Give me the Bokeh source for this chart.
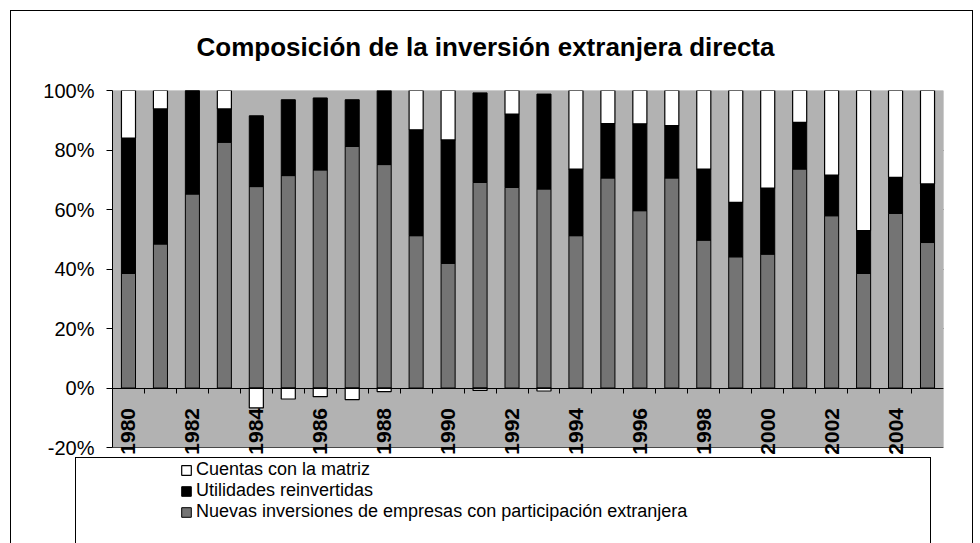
import numpy as np
from bokeh.plotting import figure
from bokeh.models import (Range1d, FixedTicker, PrintfTickFormatter, Legend,
                          LegendItem, InlineStyleSheet, BoxAnnotation)
from bokeh.embed import file_html
from bokeh.resources import INLINE

# ---- data (percent shares) ----
years = list(range(1980, 2006))
nuevas = [38.5, 48.4, 65.2, 82.6, 67.7, 71.4, 73.3, 81.2, 75.1, 51.2,
          41.9, 69.1, 67.4, 66.9, 51.2, 70.6, 59.6, 70.6, 49.7, 44.1,
          45.0, 73.6, 57.9, 38.5, 58.7, 48.9]
utilidades = [45.5, 45.4, 34.8, 11.2, 23.8, 25.5, 24.2, 15.7, 24.9, 35.6,
              41.5, 30.1, 24.7, 31.9, 22.4, 18.3, 29.2, 17.6, 23.9, 18.3,
              22.2, 15.7, 13.7, 14.4, 12.1, 19.7]
cuentas = [16.0, 6.2, 0.0, 6.2, -6.7, -3.7, -2.9, -3.9, -1.2, 13.2,
           16.6, -0.8, 7.9, -1.0, 26.4, 11.1, 11.2, 11.8, 26.4, 37.6,
           32.8, 10.7, 28.4, 47.1, 29.2, 31.4]
year_ticks = list(range(1980, 2005, 2))
y_ticks = [-20, 0, 20, 40, 60, 80, 100]
title_text = "Composición de la inversión extranjera directa"
series_names = ["Cuentas con la matriz", "Utilidades reinvertidas",
                "Nuevas inversiones de empresas con participación extranjera"]

FONT = "Liberation Sans"

n = np.array(nuevas)
u = np.array(utilidades)
c = np.array(cuentas)
black_top = n + u
white_bottom = np.where(c >= 0, black_top, 0.0)
white_top = np.where(c >= 0, black_top + c, c)

# frame spans 90..543 px; plot area (-20..100 %) spans 90..447 px
Y_MIN, Y_MAX = -20, 100
px_per_unit = (447 - 90) / (Y_MAX - Y_MIN)
y_low = Y_MAX - (543 - 90) / px_per_unit

css = InlineStyleSheet(css="""
:host { position: relative; }
:host::before {
  content: ""; position: absolute; left: 10px; top: 10px;
  width: 961px; height: 700px; border: 1px solid #000;
  pointer-events: none; z-index: 5;
}
:host::after {
  content: ""; position: absolute; left: 75px; top: 457px;
  width: 854px; height: 300px; border: 1px solid #000;
  pointer-events: none; z-index: 5;
}
""")

p = figure(width=980, height=543,
           x_range=Range1d(1979.5, 2005.5), y_range=Range1d(y_low, Y_MAX),
           output_backend="svg", toolbar_location=None,
           min_border_left=112, min_border_right=37,
           min_border_top=90, min_border_bottom=0)
p.stylesheets = [css]
p.background_fill_color = "white"
p.border_fill_color = "white"
p.outline_line_color = None

# plot area (gray panel from -20 % to 100 %)
p.add_layout(BoxAnnotation(bottom=Y_MIN, top=Y_MAX, fill_color="#b2b2b2",
                           fill_alpha=1, line_color="#222222", line_width=1,
                           level="underlay"))

# title
p.title.text = title_text
p.title.align = "left"
p.title.offset = 84
p.title.text_font = FONT
p.title.text_font_size = "26px"
p.title.text_font_style = "bold"
p.title.text_color = "black"
p.title.standoff = 58

bw = 0.44
r_n = p.vbar(x=years, bottom=0, top=nuevas, width=bw,
             fill_color="#747474", line_color="black", line_width=1)
r_u = p.vbar(x=years, bottom=nuevas, top=black_top, width=bw,
             fill_color="black", line_color="black", line_width=1)
r_c = p.vbar(x=years, bottom=white_bottom, top=white_top, width=bw,
             fill_color="white", line_color="black", line_width=1.2)

# grid
p.xgrid.visible = False
p.ygrid.ticker = FixedTicker(ticks=y_ticks)
p.ygrid.grid_line_color = "black"
p.ygrid.grid_line_width = 1

# x axis at zero
xa = p.xaxis[0]
xa.fixed_location = 0
xa.ticker = FixedTicker(ticks=year_ticks,
                        minor_ticks=[y + 0.5 for y in years[:-1]])
xa.major_label_orientation = np.pi / 2
xa.major_tick_out = 0
xa.major_tick_in = 0
xa.minor_tick_out = 5
xa.minor_tick_in = 0
xa.minor_tick_line_color = "black"
xa.axis_line_color = "black"
xa.axis_line_width = 1
xa.major_label_standoff = 15
xa.major_label_text_font = FONT
xa.major_label_text_font_size = "21px"
xa.major_label_text_font_style = "bold"
xa.major_label_text_color = "black"

# y axis
ya = p.yaxis[0]
ya.ticker = FixedTicker(ticks=y_ticks)
ya.bounds = (Y_MIN, Y_MAX)
ya.formatter = PrintfTickFormatter(format="%d%%")
ya.major_tick_out = 6
ya.major_tick_in = 0
ya.minor_tick_out = 0
ya.minor_tick_in = 0
ya.axis_line_color = "black"
ya.major_tick_line_color = "black"
ya.major_label_standoff = 12
ya.major_label_text_font = FONT
ya.major_label_text_font_size = "20px"
ya.major_label_text_color = "black"

legend = Legend(items=[LegendItem(label=series_names[0], renderers=[r_c]),
                       LegendItem(label=series_names[1], renderers=[r_u]),
                       LegendItem(label=series_names[2], renderers=[r_n])],
                location=(63, 16), orientation="vertical",
                border_line_alpha=0, background_fill_alpha=0,
                label_text_font=FONT, label_text_font_size="18px",
                label_text_color="black",
                glyph_width=12, glyph_height=12, label_standoff=4,
                padding=5, spacing=0, label_height=18, margin=0)
p.add_layout(legend)

open("out.html", "w").write(file_html(p, INLINE))
